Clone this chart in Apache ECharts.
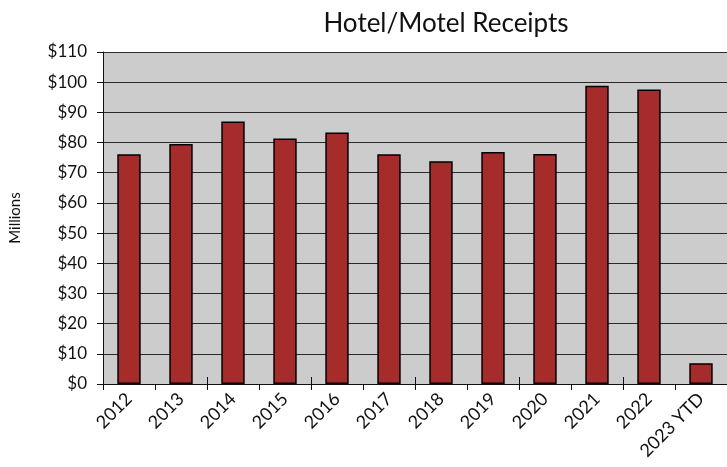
<!DOCTYPE html>
<html>
<head>
<meta charset="utf-8">
<script src="https://cdn.jsdelivr.net/npm/echarts@6/dist/echarts.min.js"></script>
<style>
  html, body { margin: 0; padding: 0; background: #fff; }
  #chart { width: 727px; height: 467px; }
</style>
</head>
<body>
<div id="chart"></div>
<script>
// hotel/motel receipts, millions of dollars
const years = ["2012", "2013", "2014", "2015", "2016", "2017", "2018", "2019", "2020", "2021", "2022", "2023 YTD"]
const receipts = [76.1, 79.5, 87.0, 81.3, 83.3, 76.1, 73.8, 76.9, 76.2, 98.8, 97.6, 6.9]

const font = "Lato, 'Open Sans', sans-serif"
const chart = echarts.init(document.getElementById("chart"))

chart.setOption({
  animation: false,
  title: {
    text: "Hotel/Motel Receipts",
    left: 441,
    top: 6,
    textAlign: "center",
    textStyle: { fontFamily: font, fontSize: 26, fontWeight: "normal", color: "#111" },
  },
  grid: { left: 102, right: -5, top: 52, bottom: 83, backgroundColor: "#cccccc", show: true, borderWidth: 0 },
  xAxis: [
    {
      type: "category",
      data: years,
      axisLine: { lineStyle: { color: "#111", width: 1 } },
      axisTick: { show: true, length: 6, lineStyle: { color: "#111" } },
      axisLabel: { rotate: 45, fontFamily: font, fontSize: 18, color: "#111", margin: 12 },
    },
    {
      // second copy only to get the tick marks crossing the axis line
      type: "category",
      data: years,
      position: "bottom",
      show: true,
      axisLine: { show: false },
      axisTick: { show: true, inside: true, length: 7, lineStyle: { color: "#111", width: 1 } },
      axisLabel: { show: false },
      splitLine: { show: false },
    },
  ],
  yAxis: {
    type: "value",
    min: 0,
    max: 110,
    interval: 10,
    name: "Millions",
    nameLocation: "middle",
    nameGap: 80,
    nameTextStyle: { fontFamily: font, fontSize: 15, color: "#111" },
    axisLine: { show: true, lineStyle: { color: "#111" } },
    axisTick: { show: true, length: 6, lineStyle: { color: "#111" } },
    axisLabel: { fontFamily: font, fontSize: 17, color: "#111", margin: 16, formatter: "${value}" },
    splitLine: { lineStyle: { color: "#2a2a2a", width: 1 } },
  },
  series: [
    {
      type: "bar",
      data: receipts,
      barWidth: "45%",
      itemStyle: { color: "#a62b2b", borderColor: "#000", borderWidth: 1.5 },
    },
  ],
})
</script>
</body>
</html>
